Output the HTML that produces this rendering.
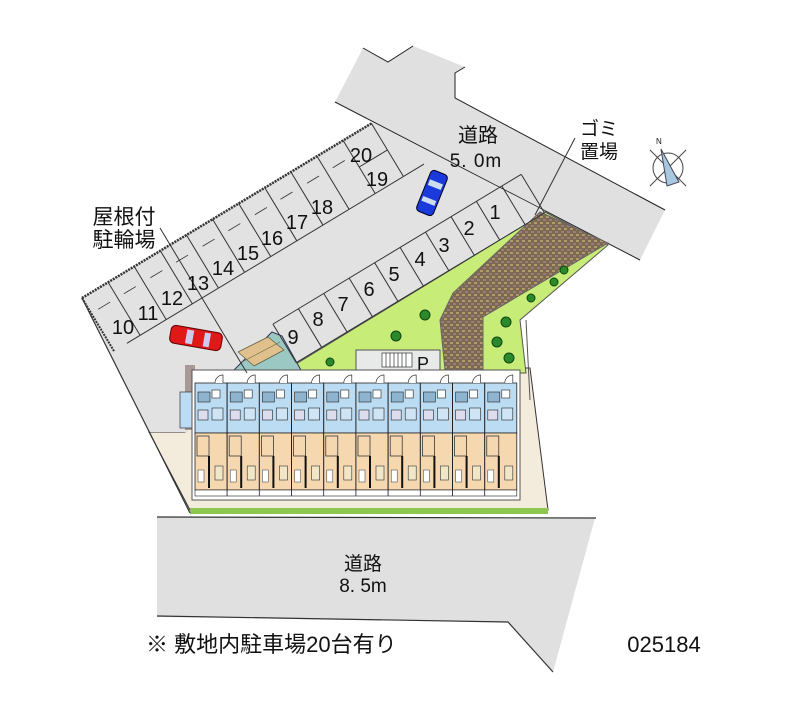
<!DOCTYPE html>
<html><head><meta charset="utf-8"><style>
html,body{margin:0;padding:0;background:#fff;}
svg{display:block;}
text{font-family:"Liberation Sans","Noto Sans CJK JP",sans-serif;fill:#111;}
</style></head><body>
<svg width="800" height="727" viewBox="0 0 800 727" xmlns="http://www.w3.org/2000/svg">
<defs>
<pattern id="brk" width="6" height="6" patternUnits="userSpaceOnUse">
<rect width="6" height="6" fill="#7a6a50"/><rect x="0" y="0" width="3" height="2" fill="#b49a6a"/><rect x="3" y="3" width="3" height="2" fill="#a07880"/>
</pattern>
<g id="unit">
<rect x="0" y="13" width="32" height="50" fill="#bcdcf4" stroke="#222" stroke-width="0.8"/>
<rect x="0" y="63" width="32" height="57" fill="#f6d8b0" stroke="#222" stroke-width="0.8"/>
<path d="M20 13 A8 8 0 0 1 28 5 L28 13" fill="#fff" stroke="#333" stroke-width="0.7"/>
<rect x="3" y="22" width="12" height="10" fill="#8fb4d0" stroke="#222" stroke-width="0.6"/>
<rect x="17" y="20" width="8" height="8" fill="#fff" stroke="#222" stroke-width="0.6"/>
<rect x="3" y="40" width="10" height="10" fill="#dde" stroke="#222" stroke-width="0.6"/>
<rect x="17" y="38" width="11" height="12" fill="#cfe4f4" stroke="#222" stroke-width="0.6"/>
<rect x="2" y="66" width="12" height="20" fill="#f6d8b0" stroke="#222" stroke-width="0.7"/>
<line x1="14" y1="86" x2="14" y2="118" stroke="#111" stroke-width="2"/>
<rect x="20" y="96" width="8" height="14" fill="#f2e6c8" stroke="#333" stroke-width="0.6"/>
<rect x="3" y="100" width="6" height="12" fill="#fff" stroke="#333" stroke-width="0.5"/>
<rect x="0" y="120" width="32" height="6" fill="#fff" stroke="#222" stroke-width="0.6"/>
</g>
</defs>

<!-- top road -->
<polygon points="335,102 363,48 388,62 413,46 465,67 455,73 455,98 665,210 640,260" fill="#e0e0e0"/>
<polyline points="363,48 388,62 413,46" fill="none" stroke="#222" stroke-width="1"/>
<polyline points="465,67 455,73 455,98 665,210" fill="none" stroke="#222" stroke-width="1"/>
<line x1="335" y1="102" x2="640" y2="260" stroke="#222" stroke-width="1"/>

<!-- bottom road -->
<polygon points="157,517 595,518 553,672 508,622 157,617" fill="#e0e0e0"/>
<line x1="157" y1="517" x2="596" y2="518" stroke="#333" stroke-width="1.2"/>
<polyline points="157,616 508,622 553,672" fill="none" stroke="#333" stroke-width="1.2"/>

<!-- beige site -->
<polygon points="149,432 185,432 185,368 530,368 548,510 190,510" fill="#f3ebdc" stroke="#333" stroke-width="1"/>
<rect x="190" y="508" width="358" height="6" fill="#8cc850"/>
<!-- gray lot -->
<polygon points="82,298 372,122 545,211 296,364 300,372 188,372 188,432 149,432" fill="#e2e2e2"/>
<line x1="82" y1="298" x2="190" y2="513" stroke="#333" stroke-width="1.2"/>
<!-- green -->
<polygon points="300,373 296,364 536,218 545,212 608,245 520,320 526,373" fill="#c8ec78" stroke="#555" stroke-width="1"/>
<!-- brown path -->
<polygon points="540,212 608,243 483,317 483,370 445,370 440,320 453,293" fill="url(#brk)" stroke="#666" stroke-width="1"/>
<line x1="526" y1="320" x2="530" y2="400" stroke="#555" stroke-width="1"/>
<!-- trees -->
<g fill="#2a8a2a" stroke="#114411" stroke-width="1">
<circle cx="425" cy="315" r="5"/><circle cx="396" cy="336" r="5"/><circle cx="330" cy="362" r="4"/>
<circle cx="554" cy="282" r="4"/><circle cx="531" cy="298" r="4"/><circle cx="506" cy="322" r="5"/>
<circle cx="497" cy="342" r="5"/><circle cx="509" cy="358" r="5"/><circle cx="564" cy="270" r="4"/>
</g>
<!-- P area -->
<rect x="356" y="350" width="84" height="22" fill="#e8eaea" stroke="#555" stroke-width="1"/>
<rect x="382" y="353" width="30" height="14" fill="#fff" stroke="#333" stroke-width="0.7"/>
<g stroke="#333" stroke-width="0.7"><line x1="386" y1="353" x2="386" y2="367"/><line x1="390" y1="353" x2="390" y2="367"/><line x1="394" y1="353" x2="394" y2="367"/><line x1="398" y1="353" x2="398" y2="367"/><line x1="402" y1="353" x2="402" y2="367"/><line x1="406" y1="353" x2="406" y2="367"/></g>
<text x="417" y="370" font-size="18">P</text>

<!-- bicycle shelter -->
<polygon points="232,372 272,332 282,336 302,372" fill="#9cc8c4" stroke="#335" stroke-width="1"/>
<polygon points="238,352 268,337 284,350 254,366" fill="#e0c08c" stroke="#664" stroke-width="0.8"/>
<line x1="242" y1="362" x2="280" y2="342" stroke="#664" stroke-width="0.6"/>

<!-- parking rows (rotated frame) -->
<g transform="translate(82,298) rotate(-31.1)" fill="none" stroke="#333" stroke-width="1">
<line x1="0" y1="0" x2="338" y2="0" stroke-dasharray="2,1" stroke-width="2.5"/>
<line x1="0" y1="0" x2="0" y2="62" stroke-dasharray="2,1" stroke-width="2"/>
<line x1="30.5" y1="0" x2="30.5" y2="62"/><line x1="61" y1="0" x2="61" y2="62"/><line x1="91.5" y1="0" x2="91.5" y2="62"/>
<line x1="122" y1="0" x2="122" y2="62"/><line x1="152.5" y1="0" x2="152.5" y2="62"/><line x1="183" y1="0" x2="183" y2="62"/>
<line x1="213.5" y1="0" x2="213.5" y2="62"/><line x1="244" y1="0" x2="244" y2="62"/><line x1="274.5" y1="0" x2="274.5" y2="62"/>
<line x1="305" y1="0" x2="305" y2="62"/><line x1="338" y1="0" x2="338" y2="62"/><line x1="305" y1="31" x2="338" y2="31"/>
<line x1="15" y1="62" x2="362" y2="62"/>
<g stroke-width="0.8">
<line x1="8" y1="18" x2="22" y2="18"/><line x1="38" y1="18" x2="52" y2="18"/><line x1="69" y1="18" x2="83" y2="18"/><line x1="99" y1="18" x2="113" y2="18"/><line x1="130" y1="18" x2="144" y2="18"/><line x1="160" y1="18" x2="174" y2="18"/><line x1="191" y1="18" x2="205" y2="18"/><line x1="221" y1="18" x2="235" y2="18"/><line x1="252" y1="18" x2="266" y2="18"/><line x1="282" y1="18" x2="296" y2="18"/>
</g>
<line x1="150" y1="121" x2="440" y2="121"/>
<line x1="150" y1="121" x2="150" y2="166"/><line x1="179.7" y1="121" x2="179.7" y2="166"/><line x1="209.4" y1="121" x2="209.4" y2="166"/>
<line x1="239" y1="121" x2="239" y2="166"/><line x1="268.8" y1="121" x2="268.8" y2="166"/><line x1="298.5" y1="121" x2="298.5" y2="166"/>
<line x1="328.2" y1="121" x2="328.2" y2="166"/><line x1="358" y1="121" x2="358" y2="166"/><line x1="387.6" y1="121" x2="387.6" y2="166"/>
<line x1="417.3" y1="121" x2="417.3" y2="166"/><line x1="440" y1="121" x2="440" y2="166"/>
<line x1="150" y1="166" x2="440" y2="166"/>
</g>

<!-- cars -->
<g transform="translate(196,338) rotate(10)">
<rect x="-26" y="-9" width="52" height="18" rx="5" fill="#e01818" stroke="#600" stroke-width="1"/>
<rect x="-10" y="-7" width="7" height="14" fill="#cce" /><rect x="8" y="-7" width="6" height="14" fill="#cce"/>
</g>
<g transform="translate(432,193) rotate(22)">
<rect x="-9" y="-22" width="18" height="44" rx="4" fill="#1a3adc" stroke="#002" stroke-width="1"/>
<rect x="-7" y="-12" width="14" height="6" fill="#cde"/><rect x="-7" y="6" width="14" height="5" fill="#cde"/>
</g>

<!-- building -->
<rect x="185" y="365" width="10" height="65" fill="#a89896"/>
<rect x="180" y="392" width="15" height="36" fill="#bcdcf4" stroke="#333" stroke-width="0.7"/>
<rect x="192" y="370" width="328" height="130" fill="#fff" stroke="#555" stroke-width="1"/>
<use href="#unit" x="195" y="370"/><use href="#unit" x="227.2" y="370"/><use href="#unit" x="259.4" y="370"/>
<use href="#unit" x="291.6" y="370"/><use href="#unit" x="323.8" y="370"/><use href="#unit" x="356" y="370"/>
<use href="#unit" x="388.2" y="370"/><use href="#unit" x="420.4" y="370"/><use href="#unit" x="452.6" y="370"/>
<use href="#unit" x="484.8" y="370"/>

<!-- compass -->
<g stroke="#444" stroke-width="1" fill="none">
<circle cx="668" cy="168" r="15"/>
<line x1="650" y1="150" x2="686" y2="186"/><line x1="650" y1="186" x2="686" y2="150"/>
<polygon points="661,149 679,182 667,186" fill="#a8c8e0" stroke="#445"/>
</g>
<text x="656" y="144" font-size="8">N</text>

<!-- leaders -->
<line x1="160" y1="228" x2="247" y2="373" stroke="#333" stroke-width="1"/>
<line x1="575" y1="138" x2="535" y2="215" stroke="#333" stroke-width="1"/>

<!-- numbers -->
<g font-size="20" text-anchor="middle">
<text x="123" y="334">10</text><text x="148" y="320">11</text><text x="172" y="305">12</text>
<text x="198" y="290">13</text><text x="223" y="275">14</text><text x="248" y="260">15</text>
<text x="272" y="245">16</text><text x="297" y="229">17</text><text x="322" y="214">18</text>
<text x="377" y="186">19</text><text x="361" y="162">20</text>
<text x="495" y="219">1</text><text x="469" y="235">2</text><text x="444" y="252">3</text>
<text x="420" y="266">4</text><text x="394" y="281">5</text><text x="369" y="296">6</text>
<text x="343" y="311">7</text><text x="318" y="326">8</text><text x="293" y="344">9</text>
</g>

<!-- labels -->
<text x="478" y="142" font-size="20" text-anchor="middle">道路</text>
<text x="476" y="167" font-size="19" text-anchor="middle" letter-spacing="1">5. 0m</text>
<text x="599" y="135" font-size="19" text-anchor="middle">ゴミ</text>
<text x="599" y="158" font-size="19" text-anchor="middle">置場</text>
<text x="124" y="224" font-size="21" text-anchor="middle">屋根付</text>
<text x="124" y="247" font-size="21" text-anchor="middle">駐輪場</text>
<text x="363" y="570" font-size="19" text-anchor="middle">道路</text>
<text x="363" y="592" font-size="19" text-anchor="middle">8. 5m</text>
<text x="146" y="652" font-size="22">※ 敷地内駐車場20台有り</text>
<text x="664" y="652" font-size="22" text-anchor="middle">025184</text>
</svg>
</body></html>
